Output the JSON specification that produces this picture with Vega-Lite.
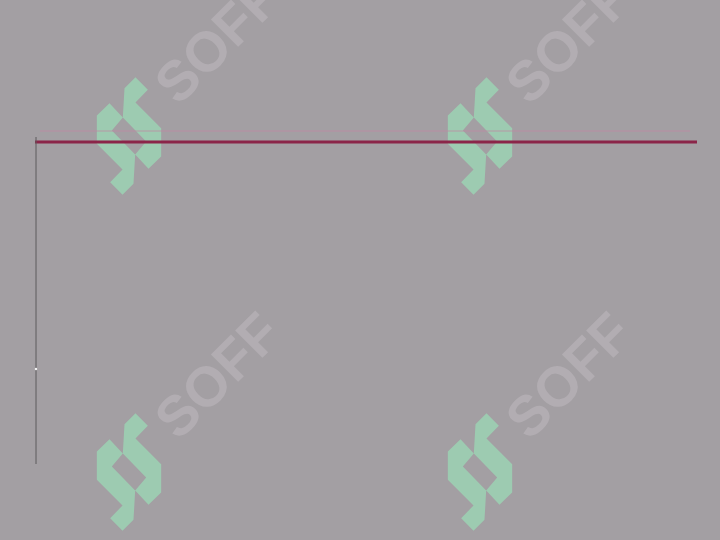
{
  "$schema": "https://vega.github.io/schema/vega-lite/v6.json",
  "width": 720,
  "height": 540,
  "autosize": {"type": "none"},
  "padding": 0,
  "background": "#a39fa3",
  "config": {"view": {"stroke": null}},
  "datasets": {
    "logos": [
      {"x": 129, "y": 136},
      {"x": 480, "y": 136},
      {"x": 129, "y": 472},
      {"x": 480, "y": 472}
    ],
    "marks": [
      {"x": 219, "y": 42, "label": "SOFF"},
      {"x": 570, "y": 42, "label": "SOFF"},
      {"x": 219, "y": 377, "label": "SOFF"},
      {"x": 570, "y": 377, "label": "SOFF"}
    ],
    "lines": [
      {"name": "faint", "x": 40, "x2": 690, "y": 131, "y2": 131},
      {"name": "main", "x": 35, "x2": 697, "y": 142, "y2": 142},
      {"name": "vertical", "x": 36, "x2": 36, "y": 137, "y2": 464}
    ],
    "dots": [
      {"x": 36, "y": 369}
    ]
  },
  "layer": [
    {
      "data": {"name": "marks"},
      "mark": {
        "type": "text",
        "angle": -45,
        "align": "center",
        "baseline": "middle",
        "font": "Liberation Sans",
        "fontWeight": "bold",
        "fontSize": 56,
        "color": "#b2adb2"
      },
      "encoding": {
        "x": {"field": "x", "type": "quantitative", "axis": null, "scale": {"domain": [0, 720], "nice": false, "zero": false}},
        "y": {"field": "y", "type": "quantitative", "axis": null, "scale": {"domain": [0, 540], "nice": false, "zero": false, "reverse": true}},
        "text": {"field": "label"}
      }
    },
    {
      "data": {"name": "logos"},
      "mark": {
        "type": "point",
        "filled": true,
        "size": 14400,
        "opacity": 1,
        "color": "#9dcbb1",
        "shape": "M0.108,-0.981L0.314,-0.769L0.108,-0.558L0.536,-0.131L0.536,0.342L0.325,0.547L0.103,0.308L0.286,0.092L-0.103,-0.308L-0.075,-0.797ZM-0.108,0.981L-0.314,0.769L-0.108,0.558L-0.536,0.131L-0.536,-0.342L-0.325,-0.547L-0.103,-0.308L-0.286,-0.092L0.103,0.308L0.075,0.797Z"
      },
      "encoding": {
        "x": {"field": "x", "type": "quantitative", "axis": null, "scale": {"domain": [0, 720], "nice": false, "zero": false}},
        "y": {"field": "y", "type": "quantitative", "axis": null, "scale": {"domain": [0, 540], "nice": false, "zero": false, "reverse": true}}
      }
    },
    {
      "data": {"name": "lines"},
      "transform": [{"filter": "datum.name === 'faint'"}],
      "mark": {"type": "rule", "color": "#bd8aa2", "strokeWidth": 1.2, "opacity": 0.8},
      "encoding": {
        "x": {"field": "x", "type": "quantitative", "axis": null, "scale": {"domain": [0, 720], "nice": false, "zero": false}},
        "x2": {"field": "x2"},
        "y": {"field": "y", "type": "quantitative", "axis": null, "scale": {"domain": [0, 540], "nice": false, "zero": false, "reverse": true}},
        "y2": {"field": "y2"}
      }
    },
    {
      "data": {"name": "lines"},
      "transform": [{"filter": "datum.name === 'main'"}],
      "mark": {"type": "rule", "color": "#8b2549", "strokeWidth": 3},
      "encoding": {
        "x": {"field": "x", "type": "quantitative", "axis": null, "scale": {"domain": [0, 720], "nice": false, "zero": false}},
        "x2": {"field": "x2"},
        "y": {"field": "y", "type": "quantitative", "axis": null, "scale": {"domain": [0, 540], "nice": false, "zero": false, "reverse": true}},
        "y2": {"field": "y2"}
      }
    },
    {
      "data": {"name": "lines"},
      "transform": [{"filter": "datum.name === 'vertical'"}],
      "mark": {"type": "rule", "color": "#5c5a5c", "strokeWidth": 1},
      "encoding": {
        "x": {"field": "x", "type": "quantitative", "axis": null, "scale": {"domain": [0, 720], "nice": false, "zero": false}},
        "x2": {"field": "x2"},
        "y": {"field": "y", "type": "quantitative", "axis": null, "scale": {"domain": [0, 540], "nice": false, "zero": false, "reverse": true}},
        "y2": {"field": "y2"}
      }
    },
    {
      "data": {"name": "dots"},
      "mark": {"type": "point", "filled": true, "size": 6, "color": "#ffffff", "opacity": 0.9},
      "encoding": {
        "x": {"field": "x", "type": "quantitative", "axis": null, "scale": {"domain": [0, 720], "nice": false, "zero": false}},
        "y": {"field": "y", "type": "quantitative", "axis": null, "scale": {"domain": [0, 540], "nice": false, "zero": false, "reverse": true}}
      }
    }
  ]
}
